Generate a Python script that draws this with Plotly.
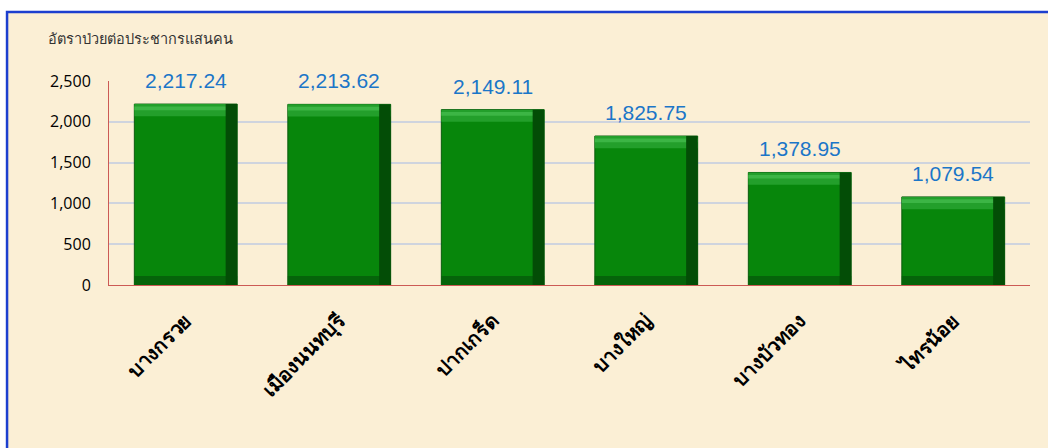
import plotly.graph_objects as go

# districts and morbidity rate per 100,000 population
districts = ["บางกรวย", "เมืองนนทบุรี", "ปากเกร็ด", "บางใหญ่", "บางบัวทอง", "ไทรน้อย"]
rates = [2217.24, 2213.62, 2149.11, 1825.75, 1378.95, 1079.54]
rate_labels = ["2,217.24", "2,213.62", "2,149.11", "1,825.75", "1,378.95", "1,079.54"]
y_ticks = [0, 500, 1000, 1500, 2000, 2500]
y_title = "อัตราป่วยต่อประชากรแสนคน"

BAR_W = 0.67
TOP_BEVEL = 150     # in value units, ~12px
BOTTOM_BEVEL = 110
PARCHMENT = "#fbefd5"

fig = go.Figure()

# main bar body
fig.add_trace(go.Bar(
    x=districts, y=rates, width=BAR_W,
    marker=dict(color="#07860b", line=dict(color="#0b5a0e", width=1)),
    hoverinfo="x+y",
))
# bottom bevel (darker)
fig.add_trace(go.Bar(
    x=districts, y=[BOTTOM_BEVEL] * len(rates), width=BAR_W,
    marker=dict(color="#05640a", line=dict(width=0)),
    hoverinfo="skip",
))
# top bevel (lighter), with a thin highlight along the edge
fig.add_trace(go.Bar(
    x=districts, y=[TOP_BEVEL] * len(rates),
    base=[r - TOP_BEVEL for r in rates], width=BAR_W,
    marker=dict(color="#239f2b", line=dict(width=0)),
    hoverinfo="skip",
))
fig.add_trace(go.Bar(
    x=districts, y=[45] * len(rates),
    base=[r - 75 for r in rates], width=BAR_W,
    marker=dict(color="#3cb545", line=dict(width=0)),
    hoverinfo="skip",
))
# right bevel (dark edge)
fig.add_trace(go.Bar(
    x=districts, y=rates, width=0.075, offset=BAR_W / 2 - 0.075,
    marker=dict(color="#034d06", line=dict(width=0)),
    hoverinfo="skip",
))

# value labels above bars
for d, r, lab in zip(districts, rates, rate_labels):
    fig.add_annotation(
        x=d, y=r, text=lab, showarrow=False, yanchor="bottom", yshift=10,
        font=dict(family="Liberation Sans, Arial", size=21, color="#1b76c8"),
    )

# y-axis title in the upper left corner
fig.add_annotation(
    xref="paper", yref="paper", x=-0.068, y=1.21, xanchor="left", yanchor="middle",
    text=y_title, showarrow=False,
    font=dict(family="Noto Sans, Tahoma", size=14.5, color="#333333"),
)

# outer chart frame (blue border on parchment)
fig.add_shape(
    type="rect", xref="paper", yref="paper", layer="below",
    x0=-0.1107, x1=1.04, y0=-0.9, y1=1.338,
    fillcolor=PARCHMENT, line=dict(color="#1c3fcf", width=2.5),
)

fig.update_layout(
    width=1048, height=448,
    margin=dict(l=109, r=18, t=81, b=163),
    paper_bgcolor="white",
    plot_bgcolor="rgba(0,0,0,0)",
    barmode="overlay",
    showlegend=False,
    xaxis=dict(
        type="category",
        tickangle=-45,
        tickfont=dict(family="Noto Sans, Tahoma", size=20, color="black", weight="bold"),
        ticklabelstandoff=15,
        showline=True, linecolor="#cc5a55", linewidth=1,
        showgrid=False, ticks="",
    ),
    yaxis=dict(
        range=[0, 2500],
        tickvals=y_ticks,
        tickformat=",",
        tickfont=dict(family="Open Sans", size=16, color="black"),
        ticklabelstandoff=14,
        showline=True, linecolor="#cc5a55", linewidth=1,
        gridcolor="#cfd4de", gridwidth=1.5,
        zeroline=False, ticks="",
    ),
)

# drop the default body margin so the figure sits at the window origin
fig.write_html(
    "out.html",
    config={"displayModeBar": False},
    post_script="document.body.style.margin='0';",
)
